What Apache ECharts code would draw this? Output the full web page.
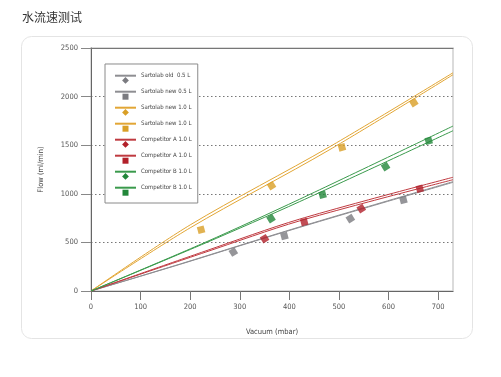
<!DOCTYPE html>
<html>
<head>
<meta charset="utf-8">
<title>水流速测试</title>
<script src="https://cdn.jsdelivr.net/npm/echarts@6/dist/echarts.min.js"></script>
<style>
  html, body { margin: 0; padding: 0; background: #fff; }
  #chart { width: 501px; height: 377px; }
</style>
</head>
<body>
<div id="chart"></div>
<script>
// measured points [vacuum mbar, flow ml/min]
const oldHalfPoints = [[287, 401], [523, 744]]
const newHalfPoints = [[390, 566], [630, 936]]
const newOneDiamondPoints = [[364, 1083], [651, 1937]]
const newOneSquarePoints = [[222, 631], [506, 1478]]
const compADiamondPoints = [[350, 538], [545, 847]]
const compASquarePoints = [[430, 710], [663, 1052]]
const compBDiamondPoints = [[363, 744], [594, 1279]]
const compBSquarePoints = [[467, 991], [681, 1546]]

// fitted curves
const oldHalfFit = [[0, 0], [180, 275], [421, 655], [730, 1118]]
const newHalfFit = [[0, 0], [180, 278], [421, 660], [730, 1125]]
const newOneDiamondFit = [[0, 0], [200, 680], [480, 1480], [730, 2245]]
const newOneSquareFit = [[0, 0], [200, 650], [480, 1450], [730, 2225]]
const compADiamondFit = [[0, 0], [230, 410], [421, 740], [730, 1170]]
const compASquareFit = [[0, 0], [230, 398], [421, 722], [730, 1145]]
const compBDiamondFit = [[0, 0], [230, 500], [421, 945], [730, 1697]]
const compBSquareFit = [[0, 0], [230, 492], [421, 920], [730, 1649]]

const legendNames = [
  'Sartolab old  0.5 L',
  'Sartolab new 0.5 L',
  'Sartolab new 1.0 L',
  'Sartolab new 1.0 L#2',
  'Competitor A 1.0 L',
  'Competitor A 1.0 L#2',
  'Competitor B 1.0 L',
  'Competitor B 1.0 L#2'
]

const font = "'Liberation Sans Narrow', 'DejaVu Sans Condensed', 'Liberation Sans', sans-serif"

// legend marker hangs below the line: empty moves pin the box to 16x16
const diamondIcon = 'path://M0,0 M16,16 M8,9.6 L11.4,13 L8,16.4 L4.6,13 Z'
const squareIcon = 'path://M0,0 M16,16 M5,10 h6 v6 h-6 Z'

const groups = [
  { name: legendNames[0], color: '#7b7b80', line: '#8e8e92', diamond: true, points: oldHalfPoints, fit: oldHalfFit },
  { name: legendNames[1], color: '#7b7b80', line: '#8e8e92', diamond: false, points: newHalfPoints, fit: newHalfFit },
  { name: legendNames[2], color: '#d99f26', line: '#e2a635', diamond: true, points: newOneDiamondPoints, fit: newOneDiamondFit },
  { name: legendNames[3], color: '#d99f26', line: '#e2a635', diamond: false, points: newOneSquarePoints, fit: newOneSquareFit },
  { name: legendNames[4], color: '#b2202a', line: '#bf3a40', diamond: true, points: compADiamondPoints, fit: compADiamondFit },
  { name: legendNames[5], color: '#b2202a', line: '#bf3a40', diamond: false, points: compASquarePoints, fit: compASquareFit },
  { name: legendNames[6], color: '#22873a', line: '#3a9a4c', diamond: true, points: compBDiamondPoints, fit: compBDiamondFit },
  { name: legendNames[7], color: '#22873a', line: '#3a9a4c', diamond: false, points: compBSquarePoints, fit: compBSquareFit }
]

const series = []
groups.forEach(g => {
  series.push({
    name: g.name,
    type: 'line',
    data: g.fit,
    smooth: 0.3,
    showSymbol: false,
    symbol: g.diamond ? diamondIcon : squareIcon,
    silent: true,
    itemStyle: { color: g.color },
    lineStyle: { color: g.line, width: 1 },
    z: 2
  })
  series.push({
    name: g.name,
    type: 'scatter',
    data: g.points,
    symbol: 'rect',
    symbolSize: 7,
    symbolRotate: g.diamond ? 32 : 15,
    itemStyle: { color: g.color },
    z: 3
  })
})

const option = {
  animation: false,
  title: {
    text: '水流速测试',
    left: 22,
    top: 11,
    padding: 0,
    textStyle: { fontSize: 12, fontWeight: 'normal', color: '#333', fontFamily: "'Noto Sans CJK SC', sans-serif" }
  },
  graphic: [{
    type: 'rect',
    shape: { x: 21.5, y: 36.5, width: 451, height: 302, r: 10 },
    style: { fill: 'none', stroke: '#e4e4e4', lineWidth: 1 },
    z: -10,
    silent: true
  }],
  legend: {
    data: legendNames,
    orient: 'vertical',
    left: 105,
    top: 64,
    padding: [3.7, 6, 7.3, 9],
    itemWidth: 21,
    itemHeight: 20,
    itemGap: 0,
    backgroundColor: '#fff',
    borderColor: '#8a8a8a',
    borderWidth: 1,
    formatter: n => n.split('#')[0],
    textStyle: { fontSize: 6, color: '#444', fontFamily: font },
    selectedMode: false
  },
  grid: {
    left: 91,
    right: 48,
    top: 48,
    bottom: 86,
    show: true,
    borderColor: '#cfcfcf',
    borderWidth: 1.5
  },
  xAxis: [
    {
      type: 'value',
      min: 0,
      max: 730,
      interval: 100,
      name: 'Vacuum (mbar)',
      nameLocation: 'middle',
      nameGap: 37,
      nameTextStyle: { fontSize: 7.5, color: '#444', fontFamily: font },
      axisLine: { show: true, lineStyle: { color: '#666', width: 1 } },
      axisTick: { show: true, length: 9, lineStyle: { color: '#777' } },
      axisLabel: { margin: 12, showMaxLabel: false, fontSize: 7.5, color: '#555', fontFamily: font },
      splitLine: { show: false }
    },
    {
      type: 'value',
      position: 'top',
      min: 0,
      max: 730,
      axisLine: { show: true, lineStyle: { color: '#777', width: 1 } },
      axisTick: { show: false },
      axisLabel: { show: false },
      splitLine: { show: false }
    }
  ],
  yAxis: {
    type: 'value',
    min: 0,
    max: 2500,
    interval: 500,
    name: 'Flow (ml/min)',
    nameLocation: 'middle',
    nameGap: 46,
    nameTextStyle: { fontSize: 7.5, color: '#444', fontFamily: font },
    axisLine: { show: true, lineStyle: { color: '#666', width: 1 } },
    axisTick: { show: true, length: 10, lineStyle: { color: '#888' } },
    axisLabel: { margin: 13, fontSize: 7.5, color: '#555', fontFamily: font, formatter: v => String(v) },
    splitLine: { show: true, lineStyle: { color: '#777', type: [1.5, 2.5], width: 1 } }
  },
  series: series
}

const chart = echarts.init(document.getElementById('chart'), null, { renderer: 'canvas' })
chart.setOption(option)
</script>
</body>
</html>
